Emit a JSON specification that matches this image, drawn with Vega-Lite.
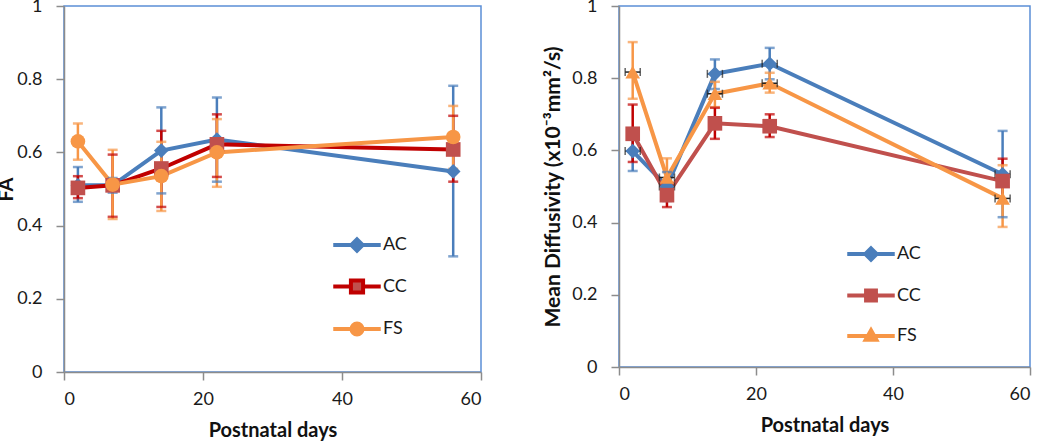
{
  "$schema": "https://vega.github.io/schema/vega-lite/v6.json",
  "padding": {"left": -4, "top": -4, "right": 0, "bottom": 0},
  "background": "white",
  "config": {
    "font": "Lato",
    "view": {"stroke": "#5b8fd6", "strokeWidth": 1.5},
    "axis": {
      "grid": false,
      "domainColor": "#8c8c8c", "domainWidth": 1.5,
      "tickColor": "#8c8c8c", "tickWidth": 1.5, "tickSize": 8,
      "labelFont": "Lato", "labelFontSize": 18, "labelColor": "#1a1a1a",
      "titleFont": "Lato", "titleFontSize": 20, "titleFontWeight": "bold", "titleColor": "#111111"
    },
    "axisX": {"labelPadding": 10, "titlePadding": 12},
    "axisY": {"labelPadding": 14, "format": ".1~f"},
    "legend": {"symbolOpacity": 1}
  },
  "datasets": {
    "fa": [
      {"series": "AC", "day": 2, "value": 0.51, "lo": 0.465, "hi": 0.56},
      {"series": "AC", "day": 7, "value": 0.51, "lo": 0.49, "hi": 0.53},
      {"series": "AC", "day": 14, "value": 0.605, "lo": 0.488, "hi": 0.723},
      {"series": "AC", "day": 22, "value": 0.635, "lo": 0.52, "hi": 0.75},
      {"series": "AC", "day": 56, "value": 0.548, "lo": 0.316, "hi": 0.782},
      {"series": "CC", "day": 2, "value": 0.503, "lo": 0.475, "hi": 0.535},
      {"series": "CC", "day": 7, "value": 0.51, "lo": 0.424, "hi": 0.594},
      {"series": "CC", "day": 14, "value": 0.556, "lo": 0.451, "hi": 0.659},
      {"series": "CC", "day": 22, "value": 0.622, "lo": 0.533, "hi": 0.704},
      {"series": "CC", "day": 56, "value": 0.608, "lo": 0.52, "hi": 0.70},
      {"series": "FS", "day": 2, "value": 0.63, "lo": 0.58, "hi": 0.679},
      {"series": "FS", "day": 7, "value": 0.512, "lo": 0.418, "hi": 0.607},
      {"series": "FS", "day": 14, "value": 0.535, "lo": 0.44, "hi": 0.629},
      {"series": "FS", "day": 22, "value": 0.60, "lo": 0.506, "hi": 0.691},
      {"series": "FS", "day": 56, "value": 0.642, "lo": 0.555, "hi": 0.727}
    ],
    "md": [
      {"series": "AC", "day": 2, "value": 0.598, "lo": 0.543, "hi": 0.653, "xlo": 0.9, "xhi": 3.1},
      {"series": "AC", "day": 7, "value": 0.50, "lo": 0.46, "hi": 0.54, "xlo": 5.9, "xhi": 8.1},
      {"series": "AC", "day": 14, "value": 0.812, "lo": 0.77, "hi": 0.852, "xlo": 12.9, "xhi": 15.1},
      {"series": "AC", "day": 22, "value": 0.84, "lo": 0.797, "hi": 0.884, "xlo": 20.9, "xhi": 23.1},
      {"series": "AC", "day": 56, "value": 0.534, "lo": 0.415, "hi": 0.654, "xlo": 54.9, "xhi": 57.1},
      {"series": "CC", "day": 2, "value": 0.646, "lo": 0.568, "hi": 0.727},
      {"series": "CC", "day": 7, "value": 0.476, "lo": 0.443, "hi": 0.51},
      {"series": "CC", "day": 14, "value": 0.675, "lo": 0.632, "hi": 0.718},
      {"series": "CC", "day": 22, "value": 0.667, "lo": 0.637, "hi": 0.70},
      {"series": "CC", "day": 56, "value": 0.515, "lo": 0.455, "hi": 0.577},
      {"series": "FS", "day": 2, "value": 0.817, "lo": 0.743, "hi": 0.90, "xlo": 0.9, "xhi": 3.1},
      {"series": "FS", "day": 7, "value": 0.525, "lo": 0.47, "hi": 0.578, "xlo": 5.9, "xhi": 8.1},
      {"series": "FS", "day": 14, "value": 0.757, "lo": 0.72, "hi": 0.79, "xlo": 12.9, "xhi": 15.1},
      {"series": "FS", "day": 22, "value": 0.786, "lo": 0.76, "hi": 0.815, "xlo": 20.9, "xhi": 23.1},
      {"series": "FS", "day": 56, "value": 0.467, "lo": 0.388, "hi": 0.559, "xlo": 54.9, "xhi": 57.1}
    ]
  },
  "bounds": "flush",
  "spacing": 138,
  "resolve": {"scale": {"stroke": "independent", "fill": "independent", "color": "independent", "shape": "independent"}, "legend": {"fill": "independent", "shape": "independent", "stroke": "independent"}},
  "hconcat": [
    {
      "width": 417,
      "height": 366,
      "data": {"name": "fa"},
      "resolve": {"scale": {"stroke": "independent", "fill": "independent", "shape": "independent"}, "legend": {"fill": "independent", "shape": "independent", "stroke": "independent"}},
      "layer": [
        {
          "mark": {"type": "line", "strokeWidth": 4},
          "encoding": {
            "x": {"field": "day", "type": "quantitative", "scale": {"domain": [0, 60]}, "axis": {"values": [0, 20, 40, 60], "title": "Postnatal days"}},
            "y": {"field": "value", "type": "quantitative", "scale": {"domain": [0, 1]}, "axis": {"values": [0, 0.2, 0.4, 0.6, 0.8, 1], "title": "FA", "titlePadding": 0}},
            "stroke": {"field": "series", "type": "nominal", "scale": {"range": ["#4a7ebb", "#c00000", "#f79646"]}, "legend": null}
          }
        },
        {
          "mark": {"type": "rule", "strokeWidth": 2.5},
          "encoding": {
            "x": {"field": "day", "type": "quantitative", "title": "Postnatal days"},
            "y": {"field": "lo", "type": "quantitative", "title": "FA"},
            "y2": {"field": "hi"},
            "color": {"field": "series", "type": "nominal", "scale": {"range": ["#4a7ebb", "#c00000", "#f79646"]}, "legend": null}
          }
        },
        {
          "mark": {"type": "tick", "orient": "horizontal", "size": 10, "thickness": 2.5},
          "encoding": {
            "x": {"field": "day", "type": "quantitative", "title": "Postnatal days"},
            "y": {"field": "lo", "type": "quantitative", "title": "FA"},
            "color": {"field": "series", "type": "nominal", "legend": null}
          }
        },
        {
          "mark": {"type": "tick", "orient": "horizontal", "size": 10, "thickness": 2.5},
          "encoding": {
            "x": {"field": "day", "type": "quantitative", "title": "Postnatal days"},
            "y": {"field": "hi", "type": "quantitative", "title": "FA"},
            "color": {"field": "series", "type": "nominal", "legend": null}
          }
        },
        {
          "mark": {"type": "point", "filled": true, "opacity": 1, "size": 215},
          "encoding": {
            "x": {"field": "day", "type": "quantitative", "title": "Postnatal days"},
            "y": {"field": "value", "type": "quantitative", "title": "FA"},
            "shape": {"field": "series", "type": "nominal", "scale": {"range": ["diamond", "square", "circle"]}, "legend": null},
            "fill": {"field": "series", "type": "nominal", "scale": {"range": ["#4a7ebb", "#c0504d", "#f79646"]}, "legend": null}
          }
        },
        {
          "mark": {"type": "point", "filled": true, "opacity": 0, "size": 1444, "strokeWidth": 4},
          "encoding": {
            "x": {"field": "day", "type": "quantitative", "title": "Postnatal days"},
            "y": {"field": "value", "type": "quantitative", "title": "FA"},
            "shape": {"field": "series", "type": "nominal", "scale": {"domain": ["AC", "CC", "FS"], "range": ["M-1.25,0H-0.3M0.3,0H1.25M0,-0.3L0.3,0L0,0.3L-0.3,0Z", "M-1.25,0H-0.32M0.32,0H1.25M-0.32,-0.32H0.32V0.32H-0.32Z", "M-1.25,0H-0.29M0.29,0H1.25M0.29,0A0.29,0.29 0 1,1 -0.29,0A0.29,0.29 0 1,1 0.29,0Z"]}},
            "stroke": {"field": "series", "type": "nominal", "scale": {"domain": ["AC", "CC", "FS"], "range": ["#4a7ebb", "#c00000", "#f79646"]}},
            "fill": {
              "field": "series", "type": "nominal",
              "scale": {"domain": ["AC", "CC", "FS"], "range": ["#4a7ebb", "#c0504d", "#f79646"]},
              "legend": {
                "title": null, "orient": "none", "legendX": 272, "legendY": 218,
                "symbolSize": 1444, "symbolStrokeWidth": 4, "symbolOpacity": 1,
                "labelFontSize": 18, "labelFont": "Lato", "labelColor": "#1a1a1a",
                "labelOffset": 5, "rowPadding": 6.5, "padding": 0
              }
            }
          }
        }
      ]
    },
    {
      "width": 411,
      "height": 361,
      "data": {"name": "md"},
      "resolve": {"scale": {"stroke": "independent", "fill": "independent", "shape": "independent"}, "legend": {"fill": "independent", "shape": "independent", "stroke": "independent"}},
      "layer": [
        {
          "mark": {"type": "line", "strokeWidth": 4},
          "encoding": {
            "x": {"field": "day", "type": "quantitative", "scale": {"domain": [0, 60]}, "axis": {"values": [0, 20, 40, 60], "title": "Postnatal days"}},
            "y": {"field": "value", "type": "quantitative", "scale": {"domain": [0, 1]}, "axis": {"values": [0, 0.2, 0.4, 0.6, 0.8, 1], "title": "Mean Diffusivity  (x10⁻³mm²/s)", "titlePadding": 8, "titleFontSize": 21}},
            "stroke": {"field": "series", "type": "nominal", "scale": {"range": ["#4a7ebb", "#c0504d", "#f79646"]}, "legend": null}
          }
        },
        {
          "mark": {"type": "rule", "strokeWidth": 2.5},
          "encoding": {
            "x": {"field": "day", "type": "quantitative", "title": "Postnatal days"},
            "y": {"field": "lo", "type": "quantitative", "title": "Mean Diffusivity  (x10⁻³mm²/s)"},
            "y2": {"field": "hi"},
            "color": {"field": "series", "type": "nominal", "scale": {"range": ["#4a7ebb", "#c00000", "#f79646"]}, "legend": null}
          }
        },
        {
          "mark": {"type": "tick", "orient": "horizontal", "size": 10, "thickness": 2.5},
          "encoding": {
            "x": {"field": "day", "type": "quantitative", "title": "Postnatal days"},
            "y": {"field": "lo", "type": "quantitative", "title": "Mean Diffusivity  (x10⁻³mm²/s)"},
            "color": {"field": "series", "type": "nominal", "legend": null}
          }
        },
        {
          "mark": {"type": "tick", "orient": "horizontal", "size": 10, "thickness": 2.5},
          "encoding": {
            "x": {"field": "day", "type": "quantitative", "title": "Postnatal days"},
            "y": {"field": "hi", "type": "quantitative", "title": "Mean Diffusivity  (x10⁻³mm²/s)"},
            "color": {"field": "series", "type": "nominal", "legend": null}
          }
        },
        {
          "transform": [{"filter": "isValid(datum.xlo)"}],
          "mark": {"type": "rule", "strokeWidth": 1.5, "color": "#222222"},
          "encoding": {
            "x": {"field": "xlo", "type": "quantitative", "title": "Postnatal days"},
            "x2": {"field": "xhi"},
            "y": {"field": "value", "type": "quantitative", "title": "Mean Diffusivity  (x10⁻³mm²/s)"}
          }
        },
        {
          "transform": [{"filter": "isValid(datum.xlo)"}],
          "mark": {"type": "tick", "orient": "vertical", "size": 8, "thickness": 1.5, "color": "#222222"},
          "encoding": {
            "x": {"field": "xlo", "type": "quantitative", "title": "Postnatal days"},
            "y": {"field": "value", "type": "quantitative", "title": "Mean Diffusivity  (x10⁻³mm²/s)"}
          }
        },
        {
          "transform": [{"filter": "isValid(datum.xlo)"}],
          "mark": {"type": "tick", "orient": "vertical", "size": 8, "thickness": 1.5, "color": "#222222"},
          "encoding": {
            "x": {"field": "xhi", "type": "quantitative", "title": "Postnatal days"},
            "y": {"field": "value", "type": "quantitative", "title": "Mean Diffusivity  (x10⁻³mm²/s)"}
          }
        },
        {
          "mark": {"type": "point", "filled": true, "opacity": 1, "size": 215},
          "encoding": {
            "x": {"field": "day", "type": "quantitative", "title": "Postnatal days"},
            "y": {"field": "value", "type": "quantitative", "title": "Mean Diffusivity  (x10⁻³mm²/s)"},
            "shape": {"field": "series", "type": "nominal", "scale": {"range": ["diamond", "square", "triangle-up"]}, "legend": null},
            "fill": {"field": "series", "type": "nominal", "scale": {"range": ["#4a7ebb", "#c0504d", "#f79646"]}, "legend": null}
          }
        },
        {
          "mark": {"type": "point", "filled": true, "opacity": 0, "size": 1444, "strokeWidth": 4},
          "encoding": {
            "x": {"field": "day", "type": "quantitative", "title": "Postnatal days"},
            "y": {"field": "value", "type": "quantitative", "title": "Mean Diffusivity  (x10⁻³mm²/s)"},
            "shape": {"field": "series", "type": "nominal", "scale": {"domain": ["AC", "CC", "FS"], "range": ["M-1.25,0H-0.3M0.3,0H1.25M0,-0.3L0.3,0L0,0.3L-0.3,0Z", "M-1.25,0H-0.26M0.26,0H1.25M-0.26,-0.26H0.26V0.26H-0.26Z", "M-1.25,0H-0.17M0.17,0H1.25M0,-0.3L0.28,0.2L-0.28,0.2Z"]}},
            "stroke": {"field": "series", "type": "nominal", "scale": {"domain": ["AC", "CC", "FS"], "range": ["#4a7ebb", "#c0504d", "#f79646"]}},
            "fill": {
              "field": "series", "type": "nominal",
              "scale": {"domain": ["AC", "CC", "FS"], "range": ["#4a7ebb", "#c0504d", "#f79646"]},
              "legend": {
                "title": null, "orient": "none", "legendX": 231, "legendY": 227,
                "symbolSize": 1444, "symbolStrokeWidth": 4, "symbolOpacity": 1,
                "labelFontSize": 18, "labelFont": "Lato", "labelColor": "#1a1a1a",
                "labelOffset": 5, "rowPadding": 6.5, "padding": 0
              }
            }
          }
        }
      ]
    }
  ]
}
